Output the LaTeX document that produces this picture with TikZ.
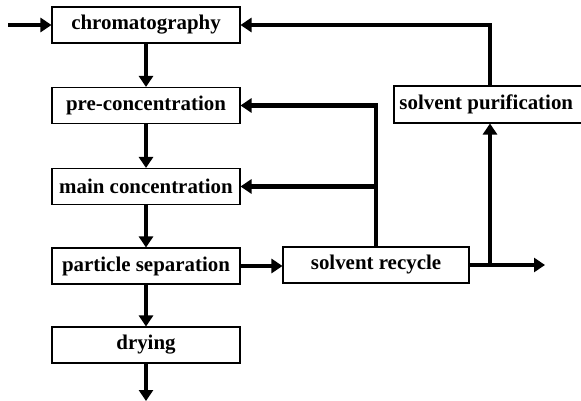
\documentclass[tikz,border=0pt]{standalone}
\usepackage{fontspec}
\setmainfont{Liberation Serif}
\usepackage{tikz}
\usetikzlibrary{arrows.meta,calc}

\begin{document}
\begin{tikzpicture}[x=0.02cm,y=-0.02cm,>={Triangle[length=0.22cm,width=0.28cm]},line join=miter,
  stage/.style={draw,line width=0.6pt,fill=white,minimum width=3.76cm,minimum height=0.72cm,inner sep=0pt,
    font=\fontsize{11.9}{14}\selectfont\bfseries},
  flow/.style={line width=2.5pt}]
  \useasboundingbox (0,0) rectangle (581,401);
  \node[stage] (chrom) at (146.000,25.000) {chromatography};
  \node[stage] (precon) at (146.000,105.500) {pre-concentration};
  \node[stage] (maincon) at (146.000,186.500) {main concentration};
  \node[stage] (partsep) at (146.000,266.000) {particle separation};
  \node[stage] (drying) at (146.000,345.000) {drying};
  \node[stage,minimum width=3.72cm] (recycle) at (376.000,265.000) {solvent recycle};
  \node[stage,minimum width=3.84cm,minimum height=0.74cm] (purif) at (490.000,104.500) {\hspace*{-0.15cm}solvent purification};
  \coordinate (feed) at (8.000,25.000);
  \coordinate (product) at (146.000,401.000);
  \coordinate (vent) at (545.000,265.000);
  \draw[flow,->] (feed) -- (chrom.west);
  \draw[flow,->] (chrom) -- (precon);
  \draw[flow,->] (precon) -- (maincon);
  \draw[flow,->] (maincon) -- (partsep);
  \draw[flow,->] (partsep) -- (drying);
  \draw[flow,->] (drying) -- (product);
  \draw[flow,->] (partsep.east) -- (partsep.east -| recycle.west);
  \draw[flow,->] (recycle.north) |- (precon.east);
  \draw[flow,->] (recycle.north |- maincon.east) -- (maincon.east);
  \draw[flow,->] (recycle.east) -- (vent);
  \draw[flow,->] (purif.south |- recycle.east) -- (purif.south);
  \draw[flow,->] (purif.north) |- (chrom.east);
\end{tikzpicture}
\end{document}
